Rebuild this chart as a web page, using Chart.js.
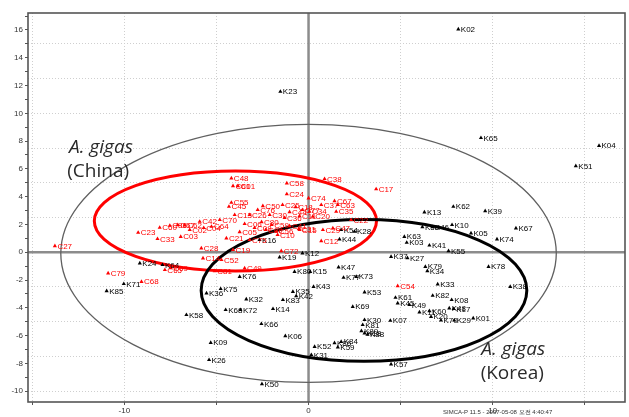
<!DOCTYPE html>
<html>
<head>
<meta charset="utf-8">
<script src="https://cdn.jsdelivr.net/npm/chart.js@4.4.0/dist/chart.umd.min.js"></script>
<style>
  html, body { margin: 0; padding: 0; background: #fff; }
  #wrap { width: 629px; height: 417px; }
</style>
</head>
<body>
<div id="wrap"><canvas id="plot" width="629" height="417"></canvas></div>
<script>
// Korean samples (black)
const kNames = ["K02","K23","K65","K04","K51","K62","K13","K39","K10","K67","K05","K74","K63","K03","K41","K55","K56","K46",
  "K78","K79","K34","K37","K27","K33","K38","K82","K08","K48","K17","K01","K29","K70","K11","K60","K20","K61","K45","K49",
  "K07","K53","K69","K30","K81","K18","K89","K88","K52","K84","K59","K86","K31","K57","K47","K77","K73","K15","K80","K43",
  "K35","K42","K83","K06","K14","K66","K32","K76","K75","K36","K68","K72","K58","K09","K26","K50","K85","K71","K24","K64",
  "K19","K12","K16","K44","K54","K28"];
const kX = [8.13,-1.53,9.36,15.77,14.51,7.86,6.29,9.59,7.79,11.26,8.82,10.23,5.20,5.33,6.56,7.60,6.18,6.72,
  9.77,6.34,6.45,4.48,5.37,7.01,10.95,6.74,7.77,7.64,7.88,8.94,7.91,7.19,6.02,6.56,6.65,4.72,4.84,5.47,
  4.44,3.04,2.40,3.04,2.94,3.04,2.87,3.20,0.33,1.77,1.59,1.41,0.15,4.48,1.63,1.90,2.59,0.09,-0.76,0.27,
  -0.85,-0.67,-1.39,-1.26,-1.93,-2.56,-3.38,-3.74,-4.77,-5.54,-4.50,-3.70,-6.63,-5.31,-5.40,-2.53,-10.96,-10.03,-9.16,-7.93,
  -1.57,-0.33,-2.66,1.68,1.77,2.49];
const kY = [16.05,11.56,8.23,7.67,6.21,3.28,2.88,2.97,1.97,1.73,1.37,0.94,1.12,0.69,0.50,0.09,1.82,1.82,
  -1.04,-1.04,-1.35,-0.32,-0.41,-2.30,-2.48,-3.12,-3.43,-4.03,-4.08,-4.75,-4.90,-4.90,-4.32,-4.23,-4.64,-3.27,-3.67,-3.79,
  -4.92,-2.88,-3.92,-4.87,-5.23,-5.83,-5.67,-5.92,-6.80,-6.44,-6.84,-6.53,-7.39,-8.06,-1.08,-1.83,-1.76,-1.40,-1.40,-2.48,
  -2.84,-3.15,-3.43,-6.03,-4.08,-5.16,-3.38,-1.76,-2.64,-2.95,-4.15,-4.15,-4.51,-6.51,-7.75,-9.48,-2.79,-2.28,-0.79,-0.91,
  -0.36,-0.07,0.89,0.94,1.61,1.48];

// Chinese samples (red)
const cNames = ["C27","C79","C68","C65","C69","C23","C33","C60","C86","C57","C62","C02","C03","C42","C04","C64","C21","C28",
  "C14","C52","C19","C49","C81","C48","C01","C61","C55","C45","C70","C13","C50","C26","C76","C06","C80","C59","C36","C41",
  "C10","C15","C05","C75","C56","C58","C24","C38","C74","C37","C67","C63","C35","C29","C47","C22","C12","C20","C72","C31",
  "C17","C25","C34","C77","C44","C11","C18","C30","C54","C08","C09"];
const cX = [-13.77,-10.88,-9.07,-7.80,-7.48,-9.25,-8.20,-8.08,-7.53,-7.10,-6.72,-6.45,-6.94,-5.91,-5.69,-5.27,-4.46,-5.82,
  -5.73,-4.73,-4.10,-3.47,-5.09,-4.19,-3.83,-4.10,-4.19,-4.32,-4.82,-4.01,-2.48,-3.20,-2.76,-3.47,-2.55,-2.00,-1.30,-1.03,
  -1.68,-0.49,-3.74,-3.20,-1.75,-1.18,-1.18,0.87,0.00,0.69,1.41,1.59,1.50,0.78,1.32,2.31,0.69,0.23,-1.48,-0.53,
  3.67,-1.41,0.05,-0.33,-1.03,-0.49,-0.70,-2.11,4.84,-2.93,-2.33];
const cY = [0.45,-1.51,-2.12,-1.27,-1.13,1.41,0.96,1.77,1.92,1.97,1.93,1.61,1.12,2.20,1.75,1.84,1.01,0.29,
  -0.43,-0.55,0.17,-1.15,-1.35,5.33,4.77,4.77,3.57,3.28,2.33,2.69,3.33,2.69,3.05,2.04,2.18,1.97,2.47,1.89,
  1.25,1.61,1.46,0.89,1.48,4.97,4.18,5.28,3.89,3.41,3.69,3.41,2.92,1.61,1.73,2.33,0.81,2.56,0.09,1.68,
  4.54,3.41,2.92,3.05,2.90,2.61,3.26,2.69,-2.43,1.75,1.61];

// confidence ellipses: Hotelling T2, China group, Korea group
const ellipseCx = [0.0, -3.97, 3.01];
const ellipseCy = [-0.08, 2.25, -2.75];
const ellipseRx = [13.45, 7.66, 8.84];
const ellipseRy = [9.29, 3.6, 5.1];

// axis ticks
const xTickValues = [-15, -10, -5, 0, 5, 10, 15];
const xTickLabels = [-10, 0, 10];
const yTickLabels = [16, 14, 12, 10, 8, 6, 4, 2, 0, -2, -4, -6, -8, -10];

const RED = "#ff0000";
const LABEL_FONT = '8px "Liberation Sans", Arial, sans-serif';

function toPoints(xs, ys){
  return xs.map((x, i) => ({ x, y: ys[i] }));
}

const ellipseStyle = [
  { color: "#606060", width: 1.3 },
  { color: RED, width: 3 },
  { color: "#000", width: 3 }
];

const backdrop = {
  id: "backdrop",
  beforeDatasetsDraw(chart){
    const { ctx, chartArea: a, scales: { x, y } } = chart;
    ctx.save();
    // zero lines
    ctx.strokeStyle = "#8c8c8c";
    ctx.lineWidth = 2.5;
    ctx.beginPath();
    ctx.moveTo(x.getPixelForValue(0), a.top);
    ctx.lineTo(x.getPixelForValue(0), a.bottom);
    ctx.moveTo(a.left, y.getPixelForValue(0));
    ctx.lineTo(a.right, y.getPixelForValue(0));
    ctx.stroke();
    // ellipses
    ellipseCx.forEach((cx, i) => {
      const px = x.getPixelForValue(cx), py = y.getPixelForValue(ellipseCy[i]);
      const rx = Math.abs(x.getPixelForValue(cx + ellipseRx[i]) - px);
      const ry = Math.abs(y.getPixelForValue(ellipseCy[i] + ellipseRy[i]) - py);
      ctx.strokeStyle = ellipseStyle[i].color;
      ctx.lineWidth = ellipseStyle[i].width;
      ctx.beginPath();
      ctx.ellipse(px, py, rx, ry, 0, 0, Math.PI * 2);
      ctx.stroke();
    });
    ctx.restore();
  },
  afterDatasetsDraw(chart){
    const { ctx, chartArea: a, scales: { x, y } } = chart;
    ctx.save();
    // point labels
    ctx.font = LABEL_FONT;
    ctx.textBaseline = "middle";
    ctx.textAlign = "left";
    chart.data.datasets.forEach((ds, di) => {
      const meta = chart.getDatasetMeta(di);
      ctx.fillStyle = ds.labelColor;
      meta.data.forEach((el, i) => ctx.fillText(ds.names[i], el.x + 2.5, el.y + 0.5));
    });
    // group captions
    ctx.fillStyle = "#2a2a2a";
    ctx.textAlign = "center";
    ctx.font = 'italic 19px "Open Sans", sans-serif';
    ctx.fillText("A. gigas", x.getPixelForValue(-11.27), y.getPixelForValue(7.51));
    ctx.fillText("A. gigas", x.getPixelForValue(11.11), y.getPixelForValue(-7.03));
    ctx.font = '19px "Open Sans", sans-serif';
    ctx.fillText("(China)", x.getPixelForValue(-11.42), y.getPixelForValue(5.78));
    ctx.fillText("(Korea)", x.getPixelForValue(11.06), y.getPixelForValue(-8.76));
    // frame
    ctx.strokeStyle = "#555";
    ctx.lineWidth = 1.6;
    ctx.strokeRect(a.left, a.top, a.right - a.left, a.bottom - a.top);
    // footer stamp
    ctx.font = '6px "Liberation Sans", Arial, sans-serif';
    ctx.fillStyle = "#333";
    ctx.textAlign = "left";
    ctx.fillText("SIMCA-P 11.5 - 2007-05-08 오전 4:40:47", 443, 412);
    ctx.restore();
  }
};

const isMult = (v, s) => Math.abs(v / s - Math.round(v / s)) < 1e-6;

new Chart(document.getElementById("plot"), {
  type: "scatter",
  data: {
    datasets: [
      { names: kNames, labelColor: "#000", data: toPoints(kX, kY),
        pointStyle: "triangle", pointRadius: 2.4, backgroundColor: "#000", borderWidth: 0 },
      { names: cNames, labelColor: RED, data: toPoints(cX, cY),
        pointStyle: "triangle", pointRadius: 2.4, backgroundColor: RED, borderWidth: 0 }
    ]
  },
  options: {
    responsive: false,
    devicePixelRatio: 1,
    animation: false,
    events: [],
    layout: { padding: { top: 13, right: 3, left: 0, bottom: 0 } },
    plugins: { legend: { display: false }, tooltip: { enabled: false } },
    scales: {
      x: {
        type: "linear", min: -15.23, max: 17.18,
        afterBuildTicks: s => { s.ticks = xTickValues.map(v => ({ value: v })); },
        afterFit: s => { s.height = 15; },
        border: { display: false, dash: [1, 2] },
        grid: {
          color: c => (c.tick && c.tick.value !== 0) ? "#cfcfcf" : "rgba(0,0,0,0)",
          tickColor: "#555", tickLength: 3, lineWidth: 1
        },
        ticks: {
          autoSkip: false, maxRotation: 0, padding: 1, color: "#333",
          font: { family: '"Liberation Sans", Arial, sans-serif', size: 8 },
          callback: v => xTickLabels.includes(v) ? String(v) : ""
        }
      },
      y: {
        type: "linear", min: -10.78, max: 17.22,
        afterBuildTicks: s => {
          const vals = [];
          for (let v = -10; v <= 17; v += 0.5) if (isMult(v, 1) || isMult(v, 2.5)) vals.push(v);
          s.ticks = vals.map(v => ({ value: v }));
        },
        afterFit: s => { s.width = 28; },
        border: { display: false, dash: [1, 2] },
        grid: {
          color: c => (c.tick && c.tick.value !== 0 && isMult(c.tick.value, 2.5)) ? "#cfcfcf" : "rgba(0,0,0,0)",
          tickColor: c => (c.tick && isMult(c.tick.value, 1)) ? "#555" : "rgba(0,0,0,0)",
          tickLength: 3, lineWidth: 1
        },
        ticks: {
          autoSkip: false, padding: 2, color: "#333",
          font: { family: '"Liberation Sans", Arial, sans-serif', size: 8 },
          callback: v => yTickLabels.includes(v) ? String(v) : ""
        }
      }
    }
  },
  plugins: [backdrop]
});
</script>
</body>
</html>
